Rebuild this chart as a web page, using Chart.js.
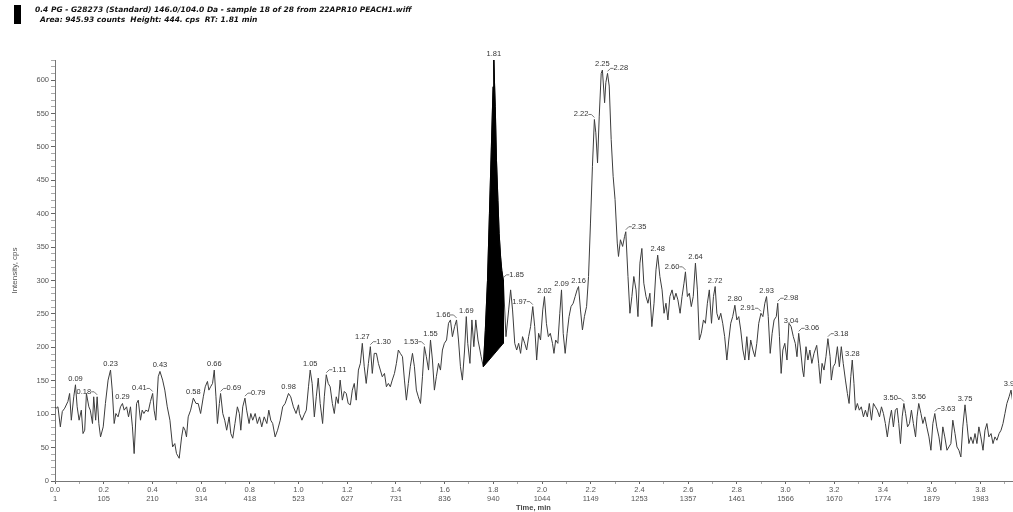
<!DOCTYPE html>
<html>
<head>
<meta charset="utf-8">
<script src="https://cdn.jsdelivr.net/npm/chart.js@4/dist/chart.umd.min.js"></script>
<style>
  body { margin: 0; background: #fff; }
  #wrap { position: relative; width: 1013px; height: 512px; }
  #mark { position: absolute; left: 14px; top: 5px; width: 7px; height: 19px; background: #000; }
  .hdr { position: absolute; font: italic bold 7.5px "DejaVu Sans", Verdana, sans-serif; line-height: 9px; color: #111; white-space: pre; }
</style>
</head>
<body>
<div id="wrap">
  <canvas id="xic" width="1013" height="512"></canvas>
  <div id="mark"></div>
  <div class="hdr" style="left:35px; top:5px;">0.4 PG - G28273 (Standard) 146.0/104.0 Da - sample 18 of 28 from 22APR10 PEACH1.wiff</div>
  <div class="hdr" style="left:40px; top:15px;">Area: 945.93 counts  Height: 444. cps  RT: 1.81 min</div>
</div>
<script>
// retention time (min) and intensity (cps)
var timeMin = [
  0.000,0.005,0.012,0.022,0.030,0.040,0.053,0.060,0.067,0.077,0.084,0.091,0.099,0.108,0.115,0.122,0.129,0.139,0.145,0.154,
  0.159,0.167,0.173,0.180,0.187,0.198,0.207,0.218,0.228,0.235,0.243,0.250,0.259,0.269,0.277,0.284,0.294,0.302,0.310,0.318,
  0.325,0.335,0.342,0.351,0.358,0.365,0.373,0.383,0.392,0.401,0.407,0.414,0.424,0.431,0.442,0.451,0.461,0.472,0.483,0.492,
  0.499,0.510,0.520,0.527,0.534,0.540,0.547,0.557,0.568,0.579,0.588,0.598,0.609,0.617,0.626,0.632,0.639,0.647,0.654,0.661,
  0.667,0.675,0.680,0.689,0.697,0.705,0.715,0.722,0.730,0.739,0.749,0.757,0.763,0.771,0.780,0.787,0.797,0.804,0.812,0.822,
  0.831,0.840,0.849,0.859,0.870,0.878,0.886,0.894,0.904,0.914,0.925,0.935,0.945,0.959,0.968,0.979,0.990,1.000,
  1.004,1.014,1.023,1.032,1.041,1.048,1.056,1.065,1.073,1.081,1.089,1.099,1.106,1.114,1.122,1.130,1.139,1.147,1.155,1.163,
  1.171,1.180,1.188,1.196,1.204,1.213,1.221,1.229,1.237,1.246,1.254,1.262,1.270,1.278,1.287,1.295,1.303,1.311,1.320,1.328,
  1.336,1.344,1.353,1.361,1.369,1.377,1.385,1.394,1.402,1.410,1.418,1.427,1.435,1.443,1.451,1.459,1.468,1.476,1.484,1.492,
  1.501,1.509,1.517,1.525,1.534,1.542,1.550,1.558,1.566,1.575,1.583,1.591,1.599,1.608,1.616,1.624,1.632,1.641,1.649,1.657,
  1.665,1.673,1.682,1.689,1.695,1.704,1.712,1.720,1.728,1.737,1.745,1.750,1.759,1.767,1.776,1.784,1.792,1.799,1.802,1.808,
  1.813,1.819,1.824,1.830,1.835,1.841,1.852,1.863,1.871,1.879,1.888,1.896,1.904,1.912,1.920,1.929,1.937,1.945,1.953,1.962,
  1.970,1.978,1.986,1.994,2.003,
  2.010,2.018,2.026,2.034,2.043,2.049,2.056,2.065,2.073,2.080,2.087,2.095,2.103,2.111,2.119,2.128,2.136,2.144,2.150,2.158,
  2.166,2.174,2.183,2.191,2.199,2.207,2.215,2.221,2.228,2.235,2.243,2.248,2.257,2.262,2.269,2.276,2.284,2.292,2.300,2.309,
  2.314,2.322,2.331,2.339,2.344,2.353,2.361,2.369,2.377,2.386,2.394,2.402,2.410,2.418,2.427,2.435,2.443,2.451,2.460,2.468,
  2.475,2.484,2.493,2.501,2.509,2.517,2.525,2.534,2.542,2.550,2.558,2.567,2.575,2.583,2.589,2.597,2.605,2.613,2.621,2.630,
  2.638,2.646,2.654,2.663,2.671,2.679,2.687,2.696,2.704,2.711,2.718,2.726,2.734,2.742,2.750,2.759,2.767,2.775,2.783,2.792,
  2.800,2.808,2.816,2.825,2.833,2.841,2.849,2.857,2.866,2.874,2.882,2.890,2.899,2.907,2.915,2.922,2.929,2.937,2.945,2.953,
  2.962,2.968,2.975,2.982,2.989,2.997,3.006,3.014,
  3.023,3.032,3.040,3.047,3.054,3.062,3.070,3.075,3.084,3.092,3.100,3.108,3.117,3.128,3.136,3.143,3.150,3.158,3.166,3.174,
  3.183,3.188,3.196,3.204,3.213,3.221,3.229,3.237,3.246,3.254,3.261,3.268,3.274,3.281,3.287,3.295,3.303,3.311,3.320,3.328,
  3.336,3.344,3.353,3.361,3.369,3.377,3.386,3.394,3.402,3.410,3.418,3.427,3.435,3.443,3.451,3.458,3.465,3.472,3.479,3.486,
  3.493,3.501,3.509,3.517,3.525,3.534,3.540,3.547,3.556,3.564,3.572,3.580,3.589,3.597,3.605,3.613,3.621,3.630,3.638,3.646,
  3.654,3.663,3.671,3.679,3.687,3.696,3.704,3.712,3.720,3.728,3.737,3.745,3.753,3.761,3.770,3.778,3.786,3.794,3.802,3.811,
  3.819,3.827,3.835,3.844,3.852,3.860,3.868,3.877,3.885,3.893,3.901,3.909,3.918,3.926,3.934
];
var intensity = [
  111,109,111,81,104,109,119,131,91,126,144,111,91,106,71,76,131,111,106,86,
  126,91,126,86,66,81,116,151,166,136,86,101,96,111,116,106,111,96,111,81,
  41,116,121,91,106,101,106,104,119,131,106,91,156,164,151,136,111,91,51,56,
  41,34,66,81,76,66,96,106,124,116,116,101,126,141,149,136,141,146,166,126,
  86,116,131,101,91,76,96,71,64,86,111,101,76,111,124,106,86,101,91,101,
  86,96,81,96,86,106,91,86,66,76,91,111,116,131,126,111,101,114,
  101,91,99,106,141,166,146,96,126,154,116,86,126,159,146,141,116,101,126,116,
  151,121,134,131,116,114,136,146,121,166,176,206,171,146,176,201,161,191,191,176,
  166,156,161,141,146,141,151,161,176,196,191,186,151,121,146,171,191,171,136,126,
  116,156,201,186,166,211,181,136,156,176,166,196,206,211,236,241,216,231,241,211,
  171,151,196,246,206,176,241,201,241,211,196,186,171,225,300,400,500,590,630,560,
  480,420,370,335,315,301,216,256,286,256,206,196,206,191,216,206,196,216,231,261,
  231,181,221,211,256,
  276,236,216,221,206,191,211,206,251,286,221,191,221,246,261,266,276,286,291,256,
  226,246,261,306,386,471,541,521,476,546,610,615,566,596,610,591,511,456,421,356,
  336,361,351,366,373,306,251,276,306,286,246,326,348,296,276,266,281,231,266,316,
  338,306,286,251,266,241,276,286,271,281,271,251,276,296,313,276,281,261,276,326,
  286,211,221,241,236,266,286,236,276,291,251,241,251,236,216,181,211,236,246,263,
  241,246,226,196,181,216,181,211,196,186,206,236,251,246,266,276,246,191,221,241,
  246,266,216,161,196,206,181,236,
  231,216,206,186,221,196,166,156,201,181,196,176,191,203,176,146,176,166,186,213,
  186,151,171,176,201,171,201,176,151,131,116,156,181,146,106,116,106,111,96,106,
  96,116,91,116,111,106,96,111,101,86,66,91,106,81,106,109,86,56,96,116,
  101,81,86,106,86,66,96,116,101,86,96,81,66,46,86,101,81,66,46,81,
  66,46,51,56,91,71,51,46,36,81,114,86,56,66,56,71,56,81,66,46,
  76,86,66,71,56,66,61,71,76,86,101,116,126,136,116
];

// integrated peak (RT 1.81): start/end time and baseline intensity at each end
var peakStart = 1.759, peakEnd = 1.841;
var baseStart = 171, baseEnd = 206;

// axis tick labels: time every 0.2 min with matching scan number
var scanLabels = ['1','105','210','314','418','523','627','731','836','940','1044','1149','1253','1357','1461','1566','1670','1774','1879','1983'];

// apex labels: text, time, intensity, side of the leader
var apexText = ['0.09','0.18','0.23','0.29','0.41','0.43','0.58','0.66','0.69','0.79','0.98','1.05','1.11','1.27','1.30','1.53','1.55','1.66','1.69','1.81','1.85','1.97','2.02','2.09','2.16','2.22','2.25','2.28','2.35','2.48','2.60','2.64','2.72','2.80','2.91','2.93','2.98','3.04','3.06','3.18','3.28','3.50','3.56','3.63','3.75','3.92'];
var apexTime = [0.084,0.173,0.228,0.277,0.401,0.431,0.568,0.654,0.680,0.780,0.959,1.048,1.114,1.262,1.295,1.517,1.542,1.649,1.689,1.802,1.841,1.962,2.010,2.080,2.150,2.215,2.248,2.269,2.344,2.475,2.589,2.630,2.711,2.792,2.899,2.922,2.968,3.023,3.054,3.174,3.274,3.486,3.547,3.613,3.737,3.926];
var apexInt = [144,126,166,116,131,164,124,166,131,124,131,166,159,206,201,201,211,241,246,630,301,261,276,286,291,541,615,610,373,338,313,326,291,263,251,276,266,231,221,213,181,116,116,101,114,136];
var apexSide = ['c','l','c','c','l','c','c','c','r','r','c','c','r','c','r','l','c','l','c','c','r','l','c','c','c','l','c','r','r','c','l','c','c','c','l','c','r','c','r','r','c','l','c','r','c','c'];

var trace = timeMin.map(function (t, i) { return { x: t, y: intensity[i] }; });
var peakShape = trace.filter(function (p) { return p.x >= peakStart && p.x <= peakEnd; });
peakShape.push({ x: peakEnd, y: baseEnd }, { x: peakStart, y: baseStart });

var apexLabels = {
  id: 'apexLabels',
  afterDatasetsDraw: function (chart) {
    var ctx = chart.ctx, xs = chart.scales.x, ys = chart.scales.y;
    ctx.save();
    ctx.font = '7.5px "Liberation Sans", Arial, sans-serif';
    ctx.fillStyle = '#333';
    ctx.strokeStyle = '#555';
    ctx.lineWidth = 0.8;
    ctx.textBaseline = 'alphabetic';
    apexText.forEach(function (txt, i) {
      var px = xs.getPixelForValue(apexTime[i]);
      var py = ys.getPixelForValue(apexInt[i]);
      var side = apexSide[i];
      if (side === 'c') {
        ctx.textAlign = 'center';
        ctx.fillText(txt, px, py - 4);
      } else if (side === 'l') {
        ctx.textAlign = 'right';
        ctx.fillText(txt, px - 6, py - 3);
        ctx.beginPath();
        ctx.moveTo(px - 6, py - 5);
        ctx.lineTo(px - 3, py - 5);
        ctx.lineTo(px, py - 2);
        ctx.stroke();
      } else {
        ctx.textAlign = 'left';
        ctx.fillText(txt, px + 6, py - 3);
        ctx.beginPath();
        ctx.moveTo(px + 6, py - 5);
        ctx.lineTo(px + 3, py - 5);
        ctx.lineTo(px, py - 2);
        ctx.stroke();
      }
    });
    ctx.restore();
  }
};

var tickFont = { family: '"Liberation Sans", Arial, sans-serif', size: 7.5 };

new Chart(document.getElementById('xic').getContext('2d'), {
  type: 'line',
  data: {
    datasets: [
      {
        data: peakShape,
        fill: 'shape',
        backgroundColor: '#000',
        borderColor: '#000',
        borderWidth: 1,
        pointRadius: 0,
        tension: 0
      },
      {
        data: trace,
        fill: false,
        borderColor: '#3c3c3c',
        borderWidth: 1,
        pointRadius: 0,
        tension: 0
      }
    ]
  },
  options: {
    responsive: false,
    devicePixelRatio: 1,
    animation: false,
    layout: { padding: { left: 0, right: 1, top: 60, bottom: 0 } },
    plugins: { legend: { display: false }, tooltip: { enabled: false } },
    scales: {
      x: {
        type: 'linear',
        min: 0,
        max: 3.93,
        afterFit: function (s) { s.height = 31; },
        border: { color: '#777' },
        grid: {
          drawOnChartArea: false,
          tickLength: 3,
          tickColor: function (c) { return Math.round(c.tick.value * 10) % 2 === 0 ? '#666' : '#aaa'; }
        },
        ticks: {
          stepSize: 0.1,
          autoSkip: false,
          includeBounds: false,
          maxRotation: 0,
          padding: 1,
          color: '#555',
          font: tickFont,
          callback: function (v) {
            var k = Math.round(v * 10);
            if (k % 2 !== 0) return '';
            return [(k / 10).toFixed(1), scanLabels[k / 2] || ''];
          }
        },
        title: {
          display: true,
          text: 'Time, min',
          color: '#444',
          font: { family: '"Liberation Sans", Arial, sans-serif', size: 7.5, weight: 'bold' },
          padding: { top: 0, bottom: 0 }
        }
      },
      y: {
        min: 0,
        max: 630,
        afterFit: function (s) { s.width = 55; },
        border: { color: '#777' },
        grid: {
          drawOnChartArea: false,
          tickLength: 4,
          tickColor: function (c) { return c.tick.value % 50 === 0 ? '#666' : '#aaa'; }
        },
        ticks: {
          stepSize: 10,
          autoSkip: false,
          padding: 2,
          color: '#555',
          font: tickFont,
          callback: function (v) { return v % 50 === 0 ? String(v) : ''; }
        },
        title: {
          display: true,
          text: 'Intensity, cps',
          color: '#555',
          font: { family: '"Liberation Sans", Arial, sans-serif', size: 8 },
          padding: { top: 10, bottom: 0 }
        }
      }
    }
  },
  plugins: [apexLabels]
});
</script>
</body>
</html>
